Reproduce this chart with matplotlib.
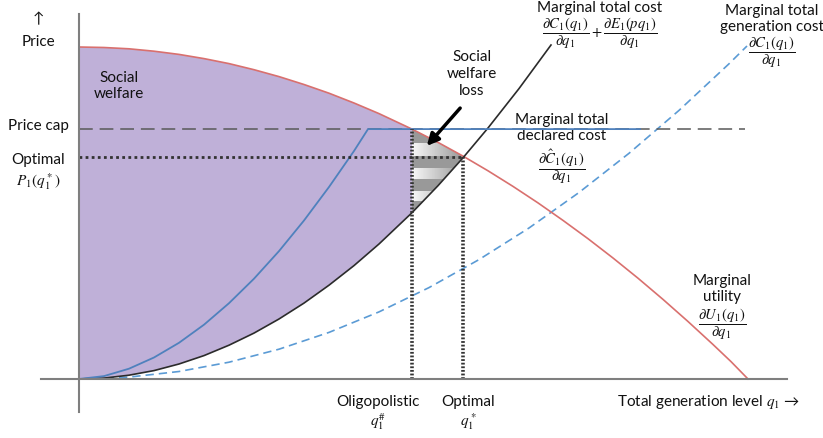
import matplotlib
matplotlib.use("Agg")
import matplotlib.pyplot as plt
import numpy as np
from matplotlib.patches import Polygon

plt.rcParams['font.family'] = ['Lato', 'DejaVu Sans']
plt.rcParams['mathtext.fontset'] = 'stix'

# curves (q = generation level, p = price)
q_utility = [0, 25, 50, 75, 100, 125, 150, 175, 200, 225, 250, 275, 300, 333, 359,
             384, 409, 434, 459, 484, 509, 534, 559, 584, 609, 634, 652, 669]
p_utility = [332.0, 331.5, 330.2, 327.8, 324.6, 320.4, 315.4, 309.3, 302.4, 294.5,
             285.8, 276.0, 265.4, 249.9, 236.6, 222.9, 208.2, 192.6, 176.1, 158.6,
             140.3, 121.0, 100.8, 79.6, 57.5, 34.5, 17.4, 0.0]

q_total = [0, 25, 50, 75, 100, 125, 150, 175, 200, 225, 250, 275, 300, 333, 359,
           384, 409, 440, 472]
p_total = [0.0, 0.9, 3.8, 8.4, 15.0, 23.4, 33.8, 45.9, 60.0, 75.9, 93.8, 113.4,
           135.0, 166.3, 193.3, 221.2, 251.0, 290.4, 334.0]

q_declared = [0, 25, 50, 75, 100, 125, 150, 175, 200, 225, 250, 275, 289, 561]
p_declared = [0.0, 2.9, 10.3, 21.5, 36.2, 54.3, 75.8, 100.3, 127.9, 158.5, 192.0,
              228.0, 249.9, 249.9]

q_generation = [0, 50, 100, 150, 200, 250, 300, 350, 400, 450, 500, 550, 600, 650, 668]
p_generation = [0.0, 1.9, 7.5, 16.8, 29.8, 46.6, 67.1, 91.4, 119.4, 151.0, 186.5,
                225.7, 268.6, 315.2, 333.0]

price_cap = 249.9
price_cap_end = 666
q_oligo = 333
q_opt = 384
p_opt = 222

fig = plt.figure(figsize=(8.23, 4.38), dpi=100)
ax = fig.add_axes([0, 0, 1, 1])

# social welfare area
i_cut = q_utility.index(q_oligo)
j_cut = q_total.index(q_oligo)
top = list(zip(q_utility[:i_cut + 1], p_utility[:i_cut + 1]))
bottom = list(zip(q_total[:j_cut + 1], p_total[:j_cut + 1]))[::-1]
ax.add_patch(Polygon(top + bottom, closed=True, facecolor='#BFB0D8',
                     edgecolor='none', zorder=1))

# welfare loss area with stripes
i_opt = q_utility.index(q_opt)
j_opt = q_total.index(q_opt)
loss = [(q_oligo, p_total[j_cut])]
loss += list(zip(q_utility[i_cut:i_opt + 1], p_utility[i_cut:i_opt + 1]))
loss += list(zip(q_total[j_cut:j_opt + 1], p_total[j_cut:j_opt + 1]))[::-1]
loss_patch = Polygon(loss, closed=True, facecolor='#999999', edgecolor='none', zorder=2)
ax.add_patch(loss_patch)
grad = np.linspace(0.97, 0.6, 60)[None, :]
for y0, y1 in [(223, 236), (200, 211), (178, 188)]:
    im = ax.imshow(grad, extent=[q_oligo, q_opt, y0, y1], aspect='auto',
                   cmap='gray', vmin=0, vmax=1, zorder=2.5, interpolation='bilinear')
    im.set_clip_path(loss_patch)

# curves
ax.plot(q_utility, p_utility, color='#D9706E', lw=1.2, zorder=4)
ax.plot(q_total, p_total, color='#2B2B2B', lw=1.2, zorder=4)
ax.plot(q_generation, p_generation, color='#5B9BD5', lw=1.2,
        linestyle=(0, (5, 3)), zorder=3)
ax.plot([0, price_cap_end], [price_cap, price_cap], color='#595959', lw=1.1,
        linestyle=(0, (9, 4.5)), zorder=3)
ax.plot(q_declared, p_declared, color='#4F81BD', lw=1.3, zorder=4)

# optimal / oligopolistic markers
ax.plot([0, q_opt], [p_opt, p_opt], color='#333333', lw=2,
        linestyle=(0, (1, 1.2)), zorder=5)
ax.plot([q_oligo, q_oligo], [0, price_cap], color='#333333', lw=2.6,
        linestyle=(0, (0.5, 0.5)), zorder=5)
ax.plot([q_opt, q_opt], [0, p_opt], color='#333333', lw=2.6,
        linestyle=(0, (0.5, 0.5)), zorder=5)

ax.annotate('', xy=(346, 231), xytext=(383, 273),
            arrowprops=dict(arrowstyle='-|>,head_width=0.35,head_length=0.7',
                            color='black', lw=2.5), zorder=6)

# axes
for s in ['top', 'right']:
    ax.spines[s].set_visible(False)
ax.spines['left'].set_position(('data', 0))
ax.spines['bottom'].set_position(('data', 0))
ax.spines['left'].set_bounds(-33, 365)
ax.spines['bottom'].set_bounds(-38, 708)
for s in ['left', 'bottom']:
    ax.spines[s].set_color('#7F7F7F')
    ax.spines[s].set_linewidth(1.5)
    ax.spines[s].set_zorder(6)
ax.set_xticks([])
ax.set_yticks([])
ax.set_xlim(-79, 744)
ax.set_ylim(-59, 379)

fs = 11
ms = 10.5
kw = dict(ha='center', va='center', fontsize=fs, color='#111111')
mkw = dict(ha='center', va='center', fontsize=ms, color='#111111')
ax.text(-41, 360, '↑', **kw)
ax.text(-41, 337, 'Price', **kw)
ax.text(-41, 253, 'Price cap', **kw)
ax.text(-41, 219, 'Optimal', **kw)
ax.text(-41, 197, r'$P_1(q_1^*)$', **kw)
ax.text(40, 293, 'Social\nwelfare', linespacing=1.25, **kw)
ax.text(393, 305, 'Social\nwelfare\nloss', linespacing=1.25, **kw)

ax.text(521, 371, 'Marginal total cost', **kw)
ax.text(521, 346, r'$\dfrac{\partial C_1(q_1)}{\partial q_1}+\dfrac{\partial E_1(pq_1)}{\partial q_1}$', **mkw)
ax.text(693, 360, 'Marginal total\ngeneration cost', linespacing=1.15, **kw)
ax.text(693, 327, r'$\dfrac{\partial C_1(q_1)}{\partial q_1}$', **mkw)
ax.text(483, 251, 'Marginal total\ndeclared cost', linespacing=1.2, **kw)
ax.text(483, 212, r'$\dfrac{\partial \hat{C}_1(q_1)}{\partial q_1}$', **mkw)
ax.text(643, 90, 'Marginal\nutility', linespacing=1.2, **kw)
ax.text(643, 55, r'$\dfrac{\partial U_1(q_1)}{\partial q_1}$', **mkw)

ax.text(299, -23, 'Oligopolistic', **kw)
ax.text(299, -43, r'$q_1^\#$', **kw)
ax.text(389, -23, 'Optimal', **kw)
ax.text(389, -43, r'$q_1^*$', **kw)
ax.text(630, -23, r'Total generation level $q_1$ →', **kw)

fig.savefig('out.png', dpi=100)
